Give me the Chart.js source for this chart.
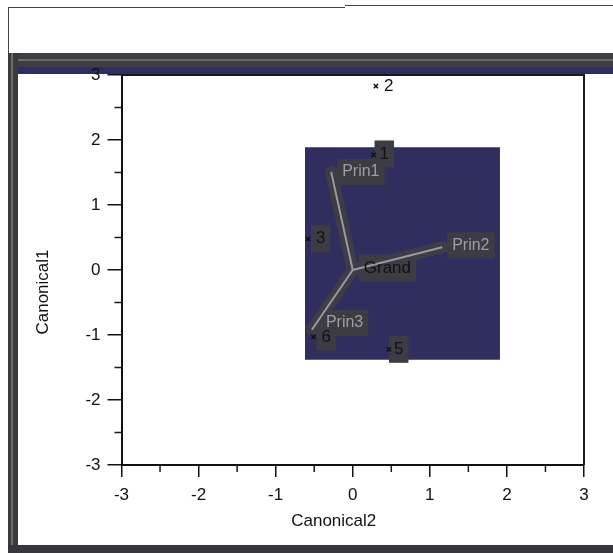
<!DOCTYPE html>
<html><head><meta charset="utf-8">
<script src="https://cdn.jsdelivr.net/npm/chart.js@4.4.1/dist/chart.umd.min.js"></script>
<style>
html,body{margin:0;padding:0;background:#fff;}
#wrap{position:relative;width:613px;height:553px;overflow:hidden;background:#fff;}
.d{position:absolute;}
canvas{position:absolute;left:0;top:0;}
</style></head><body>
<div id="wrap">
 <div class="d" style="left:8px;top:7px;width:337px;height:1px;background:#444"></div>
 <div class="d" style="left:345px;top:5px;width:268px;height:1px;background:#444"></div>
 <div class="d" style="left:8px;top:7px;width:1px;height:48px;background:#444"></div>
 <div class="d" style="left:8px;top:53px;width:605px;height:14px;background:#3f3e42"></div>
 <div class="d" style="left:8px;top:59px;width:605px;height:2px;background:#6a6a6a"></div>
 <div class="d" style="left:8px;top:67px;width:605px;height:7px;background:#2e2d62"></div>
 <div class="d" style="left:8px;top:53px;width:10px;height:500px;background:#3a393e"></div>
 <div class="d" style="left:11px;top:53px;width:2px;height:500px;background:#6b6b6b"></div>
 <div class="d" style="left:8px;top:545px;width:605px;height:8px;background:#37363f"></div>
 <canvas id="c" width="613" height="553"></canvas>
</div>
<script>
// ---- data ----
const axisTicks = [-3, -2, -1, 0, 1, 2, 3];
const minorTicks = [-2.5, -1.5, -0.5, 0.5, 1.5, 2.5];
const pointLabels = ['1', '2', '3', '5', '6'];
const pointX = [0.27, 0.30, -0.58, 0.47, -0.51];
const pointY = [1.77, 2.83, 0.48, -1.22, -1.03];
const grandX = [0];
const grandY = [0];
const rayLabels = ['Prin1', 'Prin2', 'Prin3'];
const rayX = [-0.28, 1.16, -0.53];
const rayY = [1.51, 0.35, -0.92];
const insetX = [-0.62, 1.91];
const insetY = [1.89, -1.38];
const axisTitles = ['Canonical2', 'Canonical1'];

// ---- styles ----
const FONT = '"Liberation Sans", Arial, sans-serif';
const pointLabelStyle = [
  {dx: 6, dy: -1, color: '#111', box: true},
  {dx: 8, dy: 0, color: '#111', box: false},
  {dx: 8, dy: 0, color: '#111', box: true},
  {dx: 5, dy: 0, color: '#111', box: true},
  {dx: 8, dy: 0, color: '#111', box: true}
];
const rayLabelStyle = [
  {dx: 11, dy: 0},
  {dx: 10, dy: -2},
  {dx: 14, dy: -7}
];

const ctx = document.getElementById('c');
const datasets = [];
datasets.push({
  label: 'inset', data: [{x: insetX[0], y: insetY[0]}, {x: insetX[1], y: insetY[0]}],
  showLine: true, fill: {value: insetY[1]}, backgroundColor: '#2f2e5e',
  borderWidth: 0, pointRadius: 0, order: 20
});
rayLabels.forEach((r, i) => {
  datasets.push({
    label: 'band' + i, data: [{x: grandX[0], y: grandY[0]}, {x: rayX[i], y: rayY[i]}],
    showLine: true, borderColor: '#3e3d47', borderWidth: 12, pointRadius: 0, order: 15,
    borderCapStyle: 'round'
  });
});
rayLabels.forEach((r, i) => {
  datasets.push({
    label: r, data: [{x: grandX[0], y: grandY[0]}, {x: rayX[i], y: rayY[i]}],
    showLine: true, borderColor: '#9a98a0', borderWidth: 2, pointRadius: 0, order: 10
  });
});
datasets.push({
  label: 'points', data: pointX.map((x, i) => ({x: x, y: pointY[i]})),
  pointStyle: 'crossRot', pointRadius: 3, borderColor: '#111', borderWidth: 1.5,
  backgroundColor: '#111', showLine: false, order: 1
});

function labelItems(chart) {
  const xs = chart.scales.x, ys = chart.scales.y;
  const items = [];
  pointLabels.forEach((t, i) => {
    const s = pointLabelStyle[i];
    items.push({t: t, x: xs.getPixelForValue(pointX[i]) + s.dx, y: ys.getPixelForValue(pointY[i]) + s.dy,
      color: s.color, box: s.box, size: 17});
  });
  rayLabels.forEach((t, i) => {
    const s = rayLabelStyle[i];
    items.push({t: t, x: xs.getPixelForValue(rayX[i]) + s.dx, y: ys.getPixelForValue(rayY[i]) + s.dy,
      color: '#9e9ca4', box: true, size: 16});
  });
  items.push({t: 'Grand', x: xs.getPixelForValue(grandX[0]) + 11, y: ys.getPixelForValue(grandY[0]) - 2,
    color: '#111', box: true, size: 17});
  return items;
}

const decor = {
  id: 'decor',
  afterDatasetDraw(chart, args) {
    if (args.index !== 0) return;
    const c = chart.ctx;
    c.save();
    labelItems(chart).forEach(it => {
      if (!it.box) return;
      c.font = it.size + 'px ' + FONT;
      const w = c.measureText(it.t).width;
      c.fillStyle = '#3d3c45';
      c.fillRect(it.x - 5, it.y - it.size / 2 - 5, w + 10, it.size + 10);
    });
    c.restore();
  },
  afterDatasetsDraw(chart) {
    const c = chart.ctx;
    c.save();
    c.textBaseline = 'middle';
    c.textAlign = 'left';
    labelItems(chart).forEach(it => {
      c.font = it.size + 'px ' + FONT;
      c.fillStyle = it.color;
      c.fillText(it.t, it.x, it.y);
    });
    c.restore();
  },
  afterDraw(chart) {
    const c = chart.ctx, a = chart.chartArea;
    const xs = chart.scales.x, ys = chart.scales.y;
    c.save();
    c.strokeStyle = '#1a1a1a';
    c.lineWidth = 2;
    c.beginPath();
    c.moveTo(a.left, a.top); c.lineTo(a.right, a.top); c.lineTo(a.right, a.bottom);
    c.stroke();
    c.lineWidth = 1.5;
    c.beginPath();
    minorTicks.forEach(v => {
      const px = xs.getPixelForValue(v);
      c.moveTo(px, a.bottom); c.lineTo(px, a.bottom + 7);
      const py = ys.getPixelForValue(v);
      c.moveTo(a.left - 7, py); c.lineTo(a.left, py);
    });
    c.stroke();
    // axis titles (placed as in the reference, slightly off-centre)
    c.fillStyle = '#111';
    c.font = '17px ' + FONT;
    c.textAlign = 'center';
    c.textBaseline = 'middle';
    c.fillText(axisTitles[0], (a.left + a.right) / 2 - 19, 521);
    c.translate(43, (a.top + a.bottom) / 2 + 22);
    c.rotate(-Math.PI / 2);
    c.fillText(axisTitles[1], 0, 0);
    c.restore();
  }
};

const axisCommon = (tl, pad) => ({
  type: 'linear', min: axisTicks[0], max: axisTicks[axisTicks.length - 1],
  afterBuildTicks: s => { s.ticks = axisTicks.map(v => ({value: v})); },
  ticks: {font: {family: FONT, size: 17}, color: '#111', padding: pad, maxRotation: 0},
  grid: {drawOnChartArea: false, drawTicks: true, tickLength: tl, color: '#111', lineWidth: 1.5},
  border: {display: true, color: '#111', width: 2},
  title: {display: false}
});

const xAxis = axisCommon(12, 8);
xAxis.afterFit = s => { s.height = 70; };
const yAxis = axisCommon(14, 7);
yAxis.afterFit = s => { s.width = 92.5; };

new Chart(ctx, {
  type: 'scatter',
  data: {datasets: datasets},
  options: {
    responsive: false, animation: false,
    layout: {padding: {left: 29, right: 29, top: 75, bottom: 18}},
    plugins: {legend: {display: false}, tooltip: {enabled: false}},
    scales: {x: xAxis, y: yAxis}
  },
  plugins: [decor]
});
</script>
</body></html>
